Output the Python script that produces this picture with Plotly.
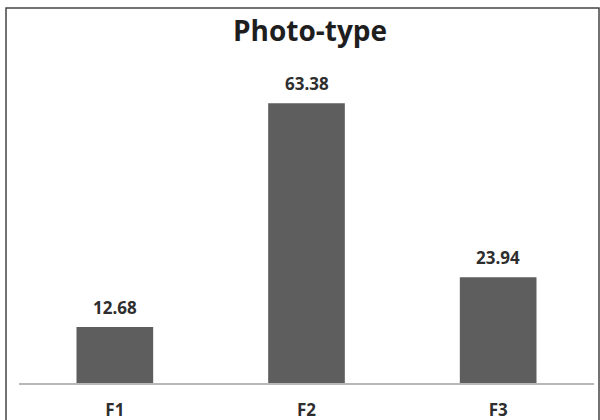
import plotly.graph_objects as go

categories = ["F1", "F2", "F3"]
values = [12.68, 63.38, 23.94]
value_labels = ["12.68", "63.38", "23.94"]

bar_color = "#5e5e5e"
text_color = "#2e2e2e"
font_family = "Open Sans, Lato, sans-serif"

fig = go.Figure(
    go.Bar(
        x=categories,
        y=values,
        marker=dict(color=bar_color, line=dict(width=0)),
        width=0.4,
        hoverinfo="skip",
    )
)

# value labels above each bar
for cat, val, lab in zip(categories, values, value_labels):
    fig.add_annotation(
        x=cat, y=val, text=f"<b>{lab}</b>", showarrow=False,
        yanchor="bottom", yshift=6,
        font=dict(family=font_family, size=17, color=text_color),
    )

# outer frame around the chart
fig.add_shape(
    type="rect", xref="paper", yref="paper",
    x0=-0.0226, x1=1.0087, y0=-0.2, y1=1.2136,
    line=dict(color="#444444", width=1.5), fillcolor="rgba(0,0,0,0)",
    layer="below",
)

fig.update_layout(
    width=600, height=420,
    margin=dict(l=19, r=6, t=74, b=37),
    paper_bgcolor="white", plot_bgcolor="white",
    showlegend=False,
    title=dict(
        text="<b>Photo-type</b>", x=310 / 600, xref="container", xanchor="center",
        y=1 - 31 / 420, yanchor="middle",
        font=dict(family=font_family, size=28, color="#1e1e1e"),
    ),
    bargap=0.6,
)
fig.update_xaxes(
    showline=True, linecolor="#b8b8b8", linewidth=2,
    showgrid=False, ticks="", ticklabelstandoff=11, automargin=False,
    tickfont=dict(family=font_family, size=17, color=text_color),
    tickprefix="<b>", ticksuffix="</b>",
)
fig.update_yaxes(visible=False, range=[0, 70], showgrid=False, zeroline=False,
                 automargin=False)

fig.write_html("out.html")
